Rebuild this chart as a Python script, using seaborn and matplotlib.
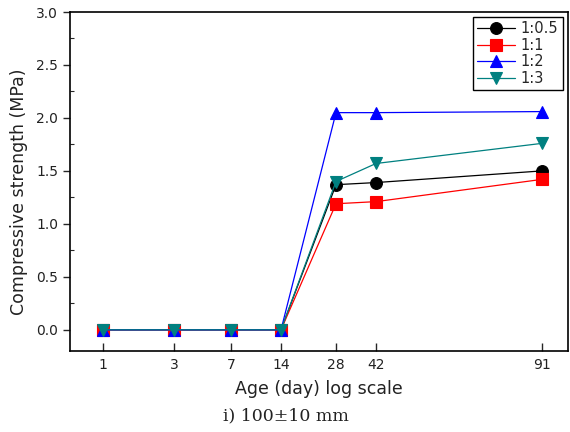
import numpy as np
import matplotlib
matplotlib.use('Agg')
import matplotlib.pyplot as plt
import seaborn as sns
from matplotlib.ticker import MultipleLocator, FormatStrFormatter

# data
days = [1, 3, 7, 14, 28, 42, 91]
mixes = ['1:0.5', '1:1', '1:2', '1:3']
strength_05 = [0, 0, 0, 0, 1.37, 1.39, 1.50]
strength_1 = [0, 0, 0, 0, 1.19, 1.21, 1.42]
strength_2 = [0, 0, 0, 0, 2.05, 2.05, 2.06]
strength_3 = [0, 0, 0, 0, 1.40, 1.57, 1.76]

colors = ['black', '#ff0000', '#0000ff', '#008080']
markers = ['o', 's', '^', 'v']

# the original "log scale" axis is warped by hand: where each age tick sits (px)
tick_px = [103, 174, 231, 281, 336, 376, 542]


def warp(x, xp, fp):
    x = np.asarray(x, dtype=float)
    y = np.interp(x, xp, fp)
    left = fp[0] + (x - xp[0]) * (fp[1] - fp[0]) / (xp[1] - xp[0])
    right = fp[-1] + (x - xp[-1]) * (fp[-1] - fp[-2]) / (xp[-1] - xp[-2])
    y = np.where(x < xp[0], left, y)
    y = np.where(x > xp[-1], right, y)
    return y


def fwd(x):
    return warp(x, days, tick_px)


def inv(p):
    return warp(p, tick_px, days)


sns.set_style('ticks')
plt.rcParams['font.family'] = ['DejaVu Sans']

fig = plt.figure(figsize=(5.7, 4.32), dpi=100)
ax = fig.add_axes([70 / 570, 1 - 351 / 432, 498 / 570, 339 / 432])
ax.set_xscale('function', functions=(fwd, inv))

series = [strength_05, strength_1, strength_2, strength_3]
for vals, name, c, m in zip(series, mixes, colors, markers):
    sns.lineplot(x=days, y=vals, color=c, marker=m, markersize=8.5,
                 markeredgecolor=c, markeredgewidth=0.8, linewidth=0.9,
                 label=name, ax=ax)

ax.set_xlim(inv(70).item(), inv(568).item())
ax.set_ylim(-0.2, 3.0)
ax.set_xticks(days)
ax.set_xticklabels([str(d) for d in days])
ax.xaxis.set_minor_locator(matplotlib.ticker.NullLocator())
ax.yaxis.set_major_locator(MultipleLocator(0.5))
ax.yaxis.set_minor_locator(MultipleLocator(0.25))
ax.yaxis.set_major_formatter(FormatStrFormatter('%.1f'))

ax.tick_params(axis='x', which='major', direction='in', length=6, width=1,
               labelsize=10, labelcolor='#222222', pad=5)
ax.tick_params(axis='y', which='major', direction='out', length=5, width=1,
               labelsize=10, labelcolor='#222222')
ax.tick_params(axis='y', which='minor', direction='in', length=3, width=0.8)

for s in ax.spines.values():
    s.set_linewidth(1.2)
    s.set_color('black')

ax.set_xlabel('Age (day) log scale', fontsize=12.5, color='#222222')
ax.set_ylabel('Compressive strength (MPa)', fontsize=12.5, color='#222222')
ax.yaxis.set_label_coords(-0.085, 0.47)
ax.xaxis.set_label_coords(0.5, -0.085)

leg = ax.legend(loc='upper right', fontsize=10.5, frameon=True, fancybox=False,
                edgecolor='black', framealpha=1, borderaxespad=0.35,
                labelspacing=0.1, handlelength=2.6, handletextpad=0.4,
                borderpad=0.3)
leg.get_frame().set_linewidth(1.0)

fig.text(223 / 570, 1 - 416 / 432, 'i) 100±10 mm', ha='left', va='center',
         family='DejaVu Serif', fontsize=12.5, color='#222222')

fig.savefig('out.png', dpi=100)
